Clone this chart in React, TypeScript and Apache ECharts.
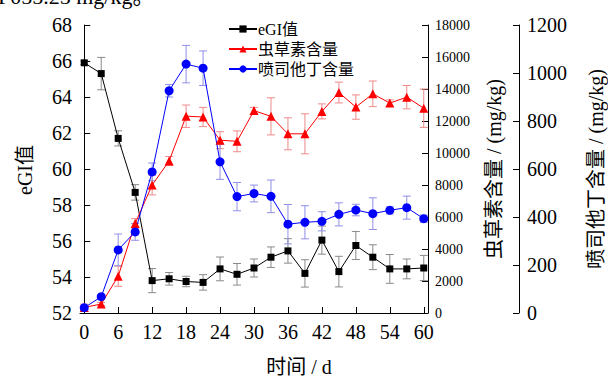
import React, { useEffect, useRef } from "react";
import * as echarts from "echarts";

const days = [0, 3, 6, 9, 12, 15, 18, 21, 24, 27, 30, 33, 36, 39, 42, 45, 48, 51, 54, 57, 60];
const xTicks = [0, 6, 12, 18, 24, 30, 36, 42, 48, 54, 60];

const egi = [65.9, 65.3, 61.7, 58.7, 53.8, 53.9, 53.75, 53.7, 54.45, 54.15, 54.5, 55.1, 55.45, 54.2, 56.05, 54.3, 55.75, 55.1, 54.45, 54.45, 54.5];
const egiErr = [0.1, 0.9, 0.42, 0.43, 0.67, 0.35, 0.29, 0.43, 0.66, 0.6, 0.5, 0.57, 0.68, 0.76, 0.78, 0.85, 0.78, 0.69, 0.8, 0.55, 0.7];

const cordycepin = [350, 560, 2300, 5600, 8000, 9500, 12300, 12250, 10800, 10730, 12650, 12290, 11200, 11200, 12600, 13780, 12870, 13700, 13120, 13490, 12800];
const cordycepinErr = [200, 100, 630, 300, 620, 280, 700, 600, 530, 650, 200, 1160, 1000, 1250, 470, 650, 760, 800, 200, 730, 1200];

const pentostatin = [22, 68, 263, 338, 588, 926, 1037, 1020, 630, 485, 498, 486, 370, 378, 382, 411, 429, 414, 428, 439, 393];
const pentostatinErr = [8, 8, 66, 35, 37, 26, 78, 72, 73, 59, 35, 68, 82, 69, 40, 48, 24, 66, 15, 48, 15];

const names = ["eGI值", "虫草素含量", "喷司他丁含量"];
const FONT = "'Times New Roman', 'Liberation Serif', 'Noto Sans CJK SC', serif";

function errSeries(values: number[], errs: number[], yIdx: number, color: string) {
  return {
    type: "custom",
    xAxisIndex: 0,
    yAxisIndex: yIdx,
    silent: true,
    z: 1,
    encode: { x: 0, y: 1 },
    data: days.map((d, i) => [d, values[i], errs[i]]),
    renderItem: (params: any, api: any) => {
      const x = api.value(0);
      const y = api.value(1);
      const e = api.value(2);
      const t = api.coord([x, y + e]);
      const b = api.coord([x, y - e]);
      const h = 4;
      const st = { stroke: color, lineWidth: 1 };
      return {
        type: "group",
        children: [
          { type: "line", shape: { x1: t[0], y1: t[1], x2: b[0], y2: b[1] }, style: st },
          { type: "line", shape: { x1: t[0] - h, y1: t[1], x2: t[0] + h, y2: t[1] }, style: st },
          { type: "line", shape: { x1: b[0] - h, y1: b[1], x2: b[0] + h, y2: b[1] }, style: st },
        ],
      };
    },
  };
}

const plain = (v: number) => String(v);

export default function App() {
  const ref = useRef<HTMLDivElement>(null);
  useEffect(() => {
    if (!ref.current) return;
    const chart = echarts.init(ref.current, null, { renderer: "svg" });
    const axisLine = { show: true, lineStyle: { color: "#000", width: 1 } };
    const axisTick = { show: true, inside: true, length: 6, lineStyle: { color: "#000" } };
    chart.setOption({
      animation: false,
      backgroundColor: "#fff",
      textStyle: { fontFamily: FONT, color: "#000" },
      grid: { left: 80, right: 180, top: 25, bottom: 65, containLabel: false, outerBoundsMode: "none" },
      legend: {
        data: names,
        orient: "vertical",
        left: 223,
        top: 16,
        itemWidth: 28,
        itemHeight: 9,
        itemGap: 4,
        textStyle: { fontFamily: FONT, fontSize: 16, color: "#000", padding: [0, 0, 0, -4] },
      },
      graphic: [
        {
          type: "text",
          left: -2,
          top: -15,
          style: { text: "F055.25 mg/kg。", font: "22px " + FONT, fill: "#000" },
        },
        {
          type: "group",
          x: 25,
          y: 170,
          rotation: Math.PI / 2,
          children: [
            {
              type: "text",
              x: 0,
              y: 0,
              style: {
                text: "eGI值",
                font: "20px " + FONT,
                fill: "#000",
                align: "center",
                verticalAlign: "middle",
              },
            },
          ],
        },
      ],
      xAxis: {
        type: "value",
        min: -0.75,
        max: 60.75,
        name: "时间 / d",
        nameLocation: "middle",
        nameGap: 44,
        nameTextStyle: { fontFamily: FONT, fontSize: 20, color: "#000", padding: [0, 0, 0, 90] },
        axisLine,
        axisTick: { ...axisTick, customValues: xTicks },
        axisLabel: { customValues: xTicks, fontFamily: FONT, fontSize: 20, color: "#000", margin: 9, formatter: plain },
        splitLine: { show: false },
      },
      yAxis: [
        {
          type: "value",
          position: "left",
          min: 52,
          max: 68,
          interval: 2,
          axisLine,
          axisTick,
          axisLabel: { fontFamily: FONT, fontSize: 20, color: "#000", margin: 8, formatter: plain },
          splitLine: { show: false },
        },
        {
          type: "value",
          position: "right",
          min: 0,
          max: 18000,
          interval: 2000,
          name: "虫草素含量 / (mg/kg)",
          nameLocation: "middle",
          nameGap: 56,
          nameRotate: 90,
          nameTextStyle: { fontFamily: FONT, fontSize: 20, color: "#000" },
          axisLine,
          axisTick,
          axisLabel: { fontFamily: FONT, fontSize: 14, color: "#000", margin: 7, formatter: plain },
          splitLine: { show: false },
        },
        {
          type: "value",
          position: "right",
          offset: 91,
          min: 0,
          max: 1200,
          interval: 200,
          name: "喷司他丁含量 / (mg/kg)",
          nameLocation: "middle",
          nameGap: 67,
          nameRotate: 90,
          nameTextStyle: { fontFamily: FONT, fontSize: 20, color: "#000" },
          axisLine,
          axisTick,
          axisLabel: { fontFamily: FONT, fontSize: 20, color: "#000", margin: 8, formatter: plain },
          splitLine: { show: false },
        },
      ],
      series: [
        errSeries(egi, egiErr, 0, "#8a8a8a"),
        errSeries(cordycepin, cordycepinErr, 1, "#f08a8a"),
        errSeries(pentostatin, pentostatinErr, 2, "#8f8fe8"),
        {
          name: names[0],
          type: "line",
          yAxisIndex: 0,
          z: 3,
          data: days.map((d, i) => [d, egi[i]]),
          symbol: "rect",
          symbolSize: 7,
          lineStyle: { color: "#000", width: 1 },
          itemStyle: { color: "#000" },
        },
        {
          name: names[1],
          type: "line",
          yAxisIndex: 1,
          z: 3,
          data: days.map((d, i) => [d, cordycepin[i]]),
          symbol: "triangle",
          symbolSize: 9,
          lineStyle: { color: "#ff0000", width: 1 },
          itemStyle: { color: "#ff0000" },
        },
        {
          name: names[2],
          type: "line",
          yAxisIndex: 2,
          z: 3,
          data: days.map((d, i) => [d, pentostatin[i]]),
          symbol: "circle",
          symbolSize: 9,
          lineStyle: { color: "#0000ff", width: 1 },
          itemStyle: { color: "#0000ff" },
        },
      ],
    });
    return () => chart.dispose();
  }, []);
  return (
    <div
      ref={ref}
      style={{ position: "absolute", left: 0, top: 0, width: 608, height: 378 }}
    />
  );
}
